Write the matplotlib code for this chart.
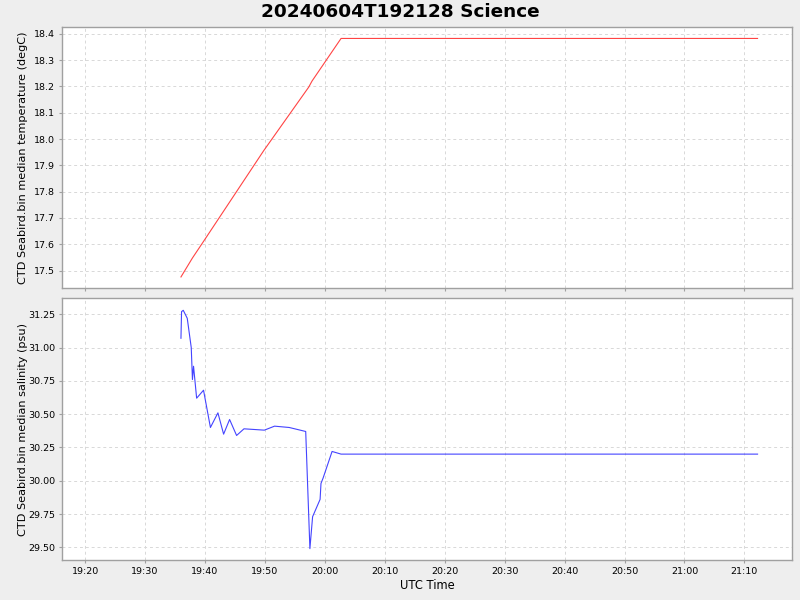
import matplotlib
matplotlib.use("Agg")
import matplotlib.pyplot as plt
import matplotlib.dates as mdates
from datetime import datetime

day = "2024-06-04 "
temp_times = ["19:35:59", "19:37:54", "19:39:45", "19:49:48", "19:57:18", "19:57:51",
              "20:02:42", "21:12:12"]
temp_values = [17.476, 17.548, 17.611, 17.956, 18.197, 18.220, 18.382, 18.382]

sal_times = ["19:35:59", "19:36:05", "19:36:22", "19:37:02", "19:37:42", "19:37:54",
             "19:38:05", "19:38:36", "19:39:45", "19:40:54", "19:42:09", "19:43:06",
             "19:44:06", "19:45:16", "19:46:30", "19:49:54", "19:51:36", "19:54:03",
             "19:56:48", "19:57:30", "19:57:57", "19:59:12", "19:59:21", "19:59:42",
             "20:01:12", "20:02:42", "21:12:12"]
sal_values = [31.07, 31.27, 31.28, 31.22, 31.00, 30.76,
              30.86, 30.62, 30.68, 30.40, 30.51, 30.35,
              30.46, 30.34, 30.39, 30.38, 30.41, 30.40,
              30.37, 29.49, 29.73, 29.86, 29.98, 30.02,
              30.22, 30.20, 30.20]

title = "20240604T192128 Science"
xlabel = "UTC Time"
temp_label = "CTD Seabird.bin median temperature (degC)"
sal_label = "CTD Seabird.bin median salinity (psu)"

def to_dt(ts):
    return [datetime.strptime(day + t, "%Y-%m-%d %H:%M:%S") for t in ts]

plt.rcParams['font.family'] = ['DejaVu Sans']
fig = plt.figure(figsize=(8, 6), dpi=100, facecolor="#EEEEEE")
ax1 = fig.add_axes([0.0775, 0.52, 0.9129, 0.4355])
ax2 = fig.add_axes([0.0775, 0.0667, 0.9129, 0.4361], sharex=ax1)

ax1.plot(to_dt(temp_times), temp_values, color="#FF4444", lw=0.8)
ax2.plot(to_dt(sal_times), sal_values, color="#4444FF", lw=0.8)

xmin = datetime.strptime(day + "19:16:08", "%Y-%m-%d %H:%M:%S")
xmax = datetime.strptime(day + "21:18:00", "%Y-%m-%d %H:%M:%S")
ax1.set_xlim(xmin, xmax)
ax1.set_ylim(17.434, 18.4266)
ax2.set_ylim(29.405, 31.37)

ax1.set_yticks([17.5, 17.6, 17.7, 17.8, 17.9, 18.0, 18.1, 18.2, 18.3, 18.4])
ax1.yaxis.set_major_formatter(matplotlib.ticker.FormatStrFormatter('%.1f'))
ax2.set_yticks([29.5, 29.75, 30.0, 30.25, 30.5, 30.75, 31.0, 31.25])
ax2.yaxis.set_major_formatter(matplotlib.ticker.FormatStrFormatter('%.2f'))
ax2.xaxis.set_major_locator(mdates.MinuteLocator(byminute=[0, 10, 20, 30, 40, 50]))
ax2.xaxis.set_major_formatter(mdates.DateFormatter("%H:%M"))

for ax in (ax1, ax2):
    ax.set_facecolor("white")
    ax.grid(True, color="#D8D8D8", linestyle=(0, (3, 3)), linewidth=0.7)
    ax.set_axisbelow(True)
    for s in ax.spines.values():
        s.set_color("#A0A0A0")
        s.set_linewidth(1.0)
    ax.tick_params(length=2, color="#A0A0A0", labelsize=6.8, pad=3)

ax1.tick_params(labelbottom=False)
ax1.set_ylabel(temp_label, fontsize=8.1)
ax2.set_ylabel(sal_label, fontsize=8.1)
ax2.set_xlabel(xlabel, fontsize=8.3, labelpad=2)
ax1.yaxis.set_label_coords(-0.0465, 0.5)
ax2.yaxis.set_label_coords(-0.0465, 0.5)
fig.text(0.5, 0.98, title, ha="center", va="center", fontsize=13.3, fontweight="bold")

fig.savefig("out.png", dpi=100, facecolor=fig.get_facecolor())
